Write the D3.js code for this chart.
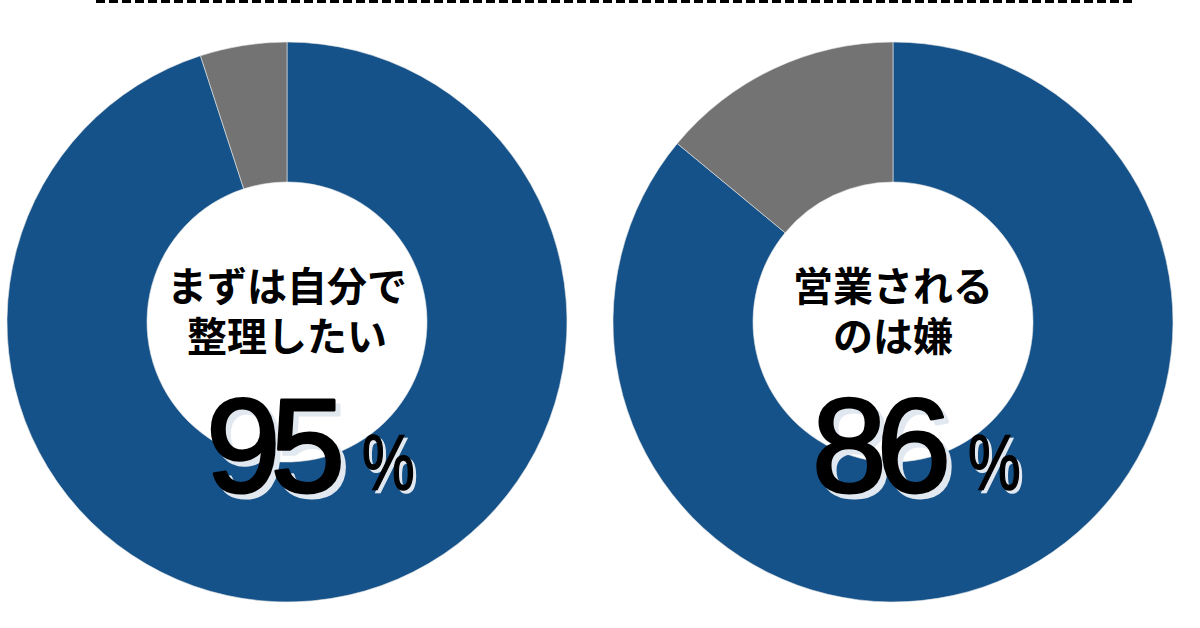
<!DOCTYPE html>
<html>
<head>
<meta charset="utf-8">
<script src="https://cdn.jsdelivr.net/npm/d3@7"></script>
<style>
  html, body { margin: 0; padding: 0; background: #fff; }
  svg { display: block; }
</style>
</head>
<body>
<svg id="chart"></svg>
<script>
// chart values
var labels = [["まずは自分で", "整理したい"], ["営業される", "のは嫌"]];
var agreeValues = [95, 86];
var restValues = [5, 14];

var width = 1200, height = 628;
var outerR = 280, innerR = 140, cy = 322;

var svg = d3.select("#chart")
    .attr("width", width)
    .attr("height", height);

// dashed rule at the top
svg.append("line")
    .attr("x1", 96).attr("x2", 1136)
    .attr("y1", 1.5).attr("y2", 1.5)
    .attr("stroke", "#000")
    .attr("stroke-width", 3)
    .attr("stroke-dasharray", "9 4");

var cx = d3.scalePoint()
    .domain(d3.range(agreeValues.length))
    .range([287, 893]);

var colors = d3.scaleOrdinal()
    .domain(["agree", "rest"])
    .range(["#155289", "#737373"]);

var pie = d3.pie()
    .sort(null)
    .value(function (d) { return d.value; });

var arc = d3.arc()
    .innerRadius(innerR)
    .outerRadius(outerR);

agreeValues.forEach(function (v, i) {
    var g = svg.append("g")
        .attr("transform", "translate(" + cx(i) + "," + cy + ")");

    var slices = [{ key: "agree", value: v }, { key: "rest", value: restValues[i] }];

    g.selectAll("path")
        .data(pie(slices))
        .enter()
        .append("path")
        .attr("d", arc)
        .attr("fill", function (d) { return colors(d.data.key); })
        .attr("stroke", "#e8e8e8")
        .attr("stroke-width", 0.6);

    // center title
    g.selectAll("text.title")
        .data(labels[i])
        .enter()
        .append("text")
        .attr("class", "title")
        .attr("x", 0)
        .attr("y", function (d, j) { return -21 + j * 50; })
        .attr("text-anchor", "middle")
        .attr("font-family", "'Noto Sans CJK JP', sans-serif")
        .attr("font-weight", 700)
        .attr("font-size", 40)
        .attr("fill", "#000")
        .text(function (d) { return d; });

    // big number with soft shadow
    [{ dx: 5, dy: 5, fill: "#e2e8f0" }, { dx: 0, dy: 0, fill: "#000" }].forEach(function (s) {
        g.append("text")
            .attr("x", 48 + s.dx)
            .attr("y", 170 + s.dy)
            .attr("text-anchor", "end")
            .attr("font-family", "'Liberation Sans', Arial, sans-serif")
            .attr("font-size", 134)
            .attr("letter-spacing", -10)
            .attr("fill", s.fill)
            .attr("stroke", s.fill)
            .attr("stroke-width", 3)
            .attr("stroke-linejoin", "round")
            .text(v);

        g.append("text")
            .attr("transform", "translate(" + (75 + s.dx * 0.6) + "," + (168 + s.dy * 0.6) + ") scale(0.76,1)")
            .attr("font-family", "'Liberation Sans', Arial, sans-serif")
            .attr("font-size", 78)
            .attr("fill", s.fill)
            .attr("stroke", s.fill)
            .attr("stroke-width", 1.5)
            .text("%");
    });
});
</script>
</body>
</html>
